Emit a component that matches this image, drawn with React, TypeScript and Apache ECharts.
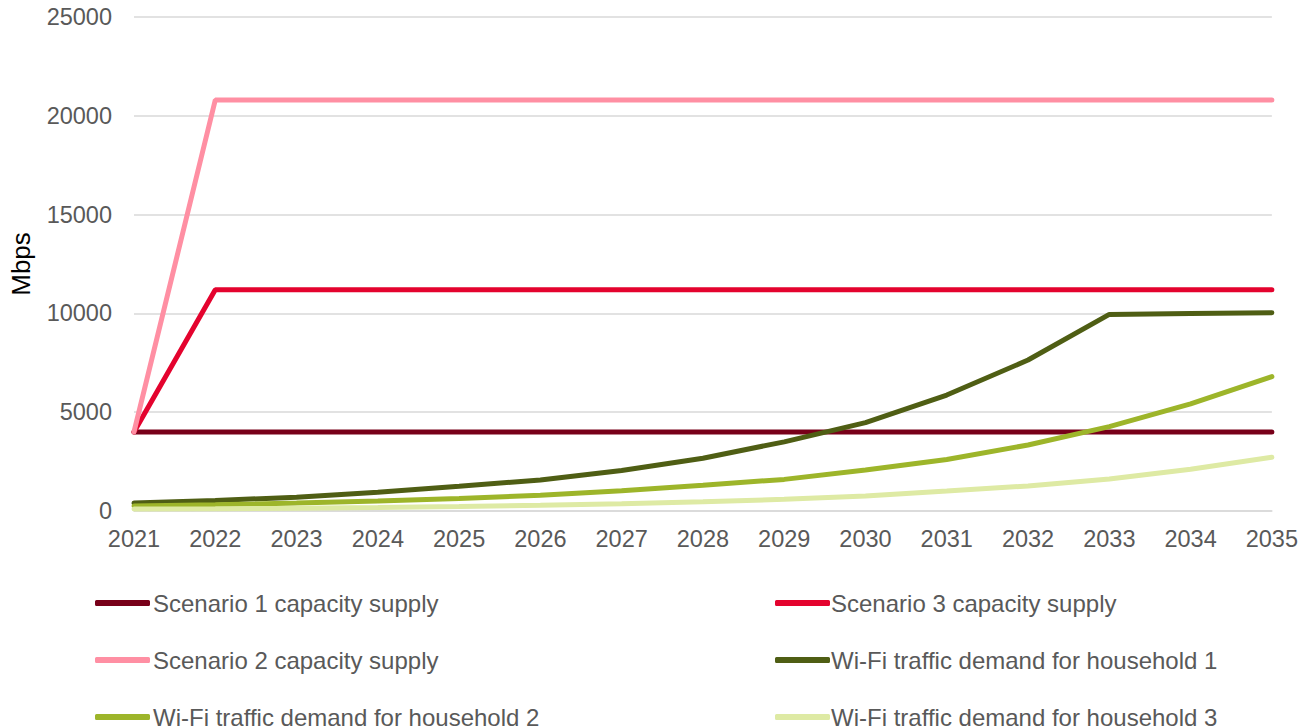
import React, { useEffect, useRef } from "react";
import * as echarts from "echarts";

const years = ["2021","2022","2023","2024","2025","2026","2027","2028","2029","2030","2031","2032","2033","2034","2035"];
const scenario1 = [4000,4000,4000,4000,4000,4000,4000,4000,4000,4000,4000,4000,4000,4000,4000];
const scenario3 = [4000,11200,11200,11200,11200,11200,11200,11200,11200,11200,11200,11200,11200,11200,11200];
const scenario2 = [4000,20800,20800,20800,20800,20800,20800,20800,20800,20800,20800,20800,20800,20800,20800];
const household1 = [400,530,700,950,1250,1570,2050,2670,3500,4470,5870,7640,9950,10000,10030];
const household2 = [250,320,400,500,630,800,1030,1300,1600,2070,2610,3340,4270,5420,6800];
const household3 = [100,120,145,180,225,290,370,470,590,760,1010,1270,1620,2110,2720];

const names = [
  "Scenario 1 capacity supply",
  "Scenario 3 capacity supply",
  "Scenario 2 capacity supply",
  "Wi-Fi traffic demand for household 1",
  "Wi-Fi traffic demand for household 2",
  "Wi-Fi traffic demand for household 3",
];
const colors = ["#780019", "#E4032E", "#FF8FA3", "#4F5E14", "#9DB52A", "#DEEAA4"];
const seriesData = [scenario1, scenario3, scenario2, household1, household2, household3];

export default function App() {
  const ref = useRef<HTMLDivElement>(null);
  useEffect(() => {
    const chart = echarts.init(ref.current!, null, { renderer: "svg" });
    const font = "Liberation Sans, Arial, sans-serif";
    const legends = names.map((n, i) => ({
      orient: "horizontal" as const,
      icon: "roundRect",
      itemWidth: 55,
      itemHeight: 6,
      left: i % 2 === 0 ? 90 : 770,
      top: 586 + Math.floor(i / 2) * 57,
      data: [n],
      textStyle: {
        fontSize: 24,
        color: "#595959",
        fontFamily: font,
        lineHeight: 24,
        padding: [0, 0, 0, i % 2 === 0 ? -2 : -4],
      },
    }));
    chart.setOption({
      animation: false,
      color: colors,
      grid: { left: 133, right: 25, top: 17, bottom: 217, containLabel: false },
      xAxis: {
        type: "category",
        data: years,
        boundaryGap: false,
        axisLine: { show: true, lineStyle: { color: "#d9d9d9", width: 1.5 } },
        axisTick: { show: false },
        axisLabel: { fontSize: 23.5, color: "#595959", fontFamily: font, margin: 16 },
      },
      yAxis: {
        type: "value",
        min: 0,
        max: 25000,
        interval: 5000,
        name: "Mbps",
        nameLocation: "middle",
        nameGap: 100,
        nameTextStyle: { fontSize: 26, color: "#000", fontFamily: font },
        axisLabel: { fontSize: 23.5, color: "#595959", fontFamily: font, margin: 22, formatter: (v: number) => String(v) },
        splitLine: { lineStyle: { color: "#d9d9d9", width: 1.5 } },
        axisLine: { show: false },
        axisTick: { show: false },
      },
      legend: legends,
      series: names.map((n, i) => ({
        name: n,
        type: "line",
        data: seriesData[i],
        symbol: "none",
        lineStyle: { width: 5, color: colors[i], cap: "round" },
        itemStyle: { color: colors[i] },
      })),
    });
    return () => chart.dispose();
  }, []);
  return <div ref={ref} style={{ width: 1301, height: 728, position: "absolute", left: 0, top: 0 }} />;
}
